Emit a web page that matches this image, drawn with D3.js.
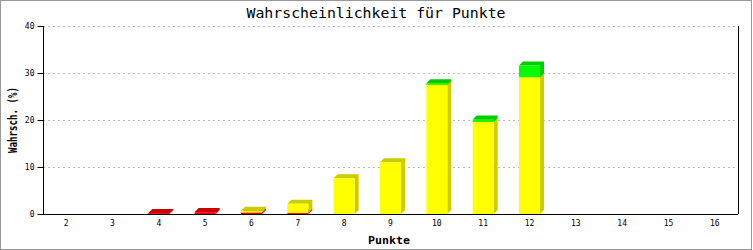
<!DOCTYPE html>
<html><head><meta charset="utf-8">
<script src="https://cdn.jsdelivr.net/npm/d3@7"></script>
<style>body{margin:0;background:#fff}svg{display:block}</style>
</head><body>
<script>
const categories = ["2","3","4","5","6","7","8","9","10","11","12","13","14","15","16"];
const redValues    = [0,0,0.2,0.4,0.3,0.2,0,0,0,0,0,0,0,0,0];
const yellowValues = [0,0,0,0,0.4,2.0,7.6,11.0,27.5,19.6,29.1,0,0,0,0];
const greenValues  = [0,0,0,0,0,0,0,0,0.3,0.5,2.5,0,0,0,0];
const yTicks = [0,10,20,30,40];
const series = [
  {name:"rot", values:redValues, front:"#ff0000", dark:"#cc0000"},
  {name:"gelb", values:yellowValues, front:"#ffff00", dark:"#cccc00"},
  {name:"grün", values:greenValues, front:"#00ff00", dark:"#00cc00"}
];

const W=753,H=250;
const svg=d3.select("body").append("svg").attr("width",W).attr("height",H);
svg.append("rect").attr("x",0.5).attr("y",0.5).attr("width",W-2).attr("height",H-1)
  .attr("fill","#fff").attr("stroke","#999");

const L=43,R=738,T=26,B=214;
const x=d3.scaleBand().domain(categories).range([L,R]);
const y=d3.scaleLinear().domain([0,40]).range([B,T]);
const mono="'DejaVu Sans Mono', monospace";

// grid
svg.append("g").selectAll("line").data(yTicks.filter(d=>d>0)).join("line")
  .attr("x1",L).attr("x2",R).attr("y1",d=>y(d)+0.5).attr("y2",d=>y(d)+0.5)
  .attr("stroke","#bbb").attr("stroke-dasharray","2,3");

// bars
const depth=4, bw=21;
const gBars=svg.append("g");
categories.forEach((c,i)=>{
  let base=0;
  series.forEach(s=>{
    const v=s.values[i];
    if(v<=0) return;
    const y0=y(base), y1=y(base+v);
    const x0=x(c)+x.bandwidth()/2-bw/2, x1=x0+bw;
    gBars.append("path")
      .attr("d",`M${x0},${y1}L${x0+depth},${y1-depth}L${x1+depth},${y1-depth}L${x1+depth},${y0-depth}L${x1},${y0}L${x1},${y1}Z`)
      .attr("fill",s.dark);
    gBars.append("rect").attr("x",x0).attr("y",y1).attr("width",bw).attr("height",Math.max(0,y0-y1))
      .attr("fill",s.front);
    base+=v;
  });
});

// axes frame
const yAxis=d3.axisLeft(y).tickValues(yTicks).tickSize(6).tickPadding(3);
const gy=svg.append("g").attr("transform",`translate(${L}.5,0)`).call(yAxis);
gy.select(".domain").attr("d",`M0,${T}V${B}`).attr("stroke","#000");
gy.selectAll("text").attr("font-family",mono).attr("font-size","8px").attr("fill","#000");
gy.selectAll(".tick line").attr("stroke","#000");

const xAxis=d3.axisBottom(x).tickSize(0).tickPadding(6);
const gx=svg.append("g").attr("transform",`translate(0,${B}.5)`).call(xAxis);
gx.select(".domain").attr("d",`M${L},0H${R}`).attr("stroke","#000");
gx.selectAll("text").attr("font-family",mono).attr("font-size","8px").attr("fill","#000");

svg.append("line").attr("x1",R+0.5).attr("x2",R+0.5).attr("y1",T).attr("y2",B).attr("stroke","#000");

// titles
svg.append("text").attr("x",376).attr("y",18).attr("text-anchor","middle")
  .attr("font-family",mono).attr("font-size","14px").attr("textLength",259).attr("lengthAdjust","spacingAndGlyphs")
  .text("Wahrscheinlichkeit für Punkte");
svg.append("text").attr("x",389).attr("y",244).attr("text-anchor","middle")
  .attr("font-family",mono).attr("font-weight","bold").attr("font-size","11px")
  .attr("textLength",42).attr("lengthAdjust","spacingAndGlyphs").text("Punkte");
svg.append("text").attr("transform","translate(17,120) rotate(-90)").attr("text-anchor","middle")
  .attr("font-family",mono).attr("font-weight","bold").attr("font-size","12px")
  .attr("textLength",66).attr("lengthAdjust","spacingAndGlyphs").text("Wahrsch. (%)");
</script>
</body></html>
